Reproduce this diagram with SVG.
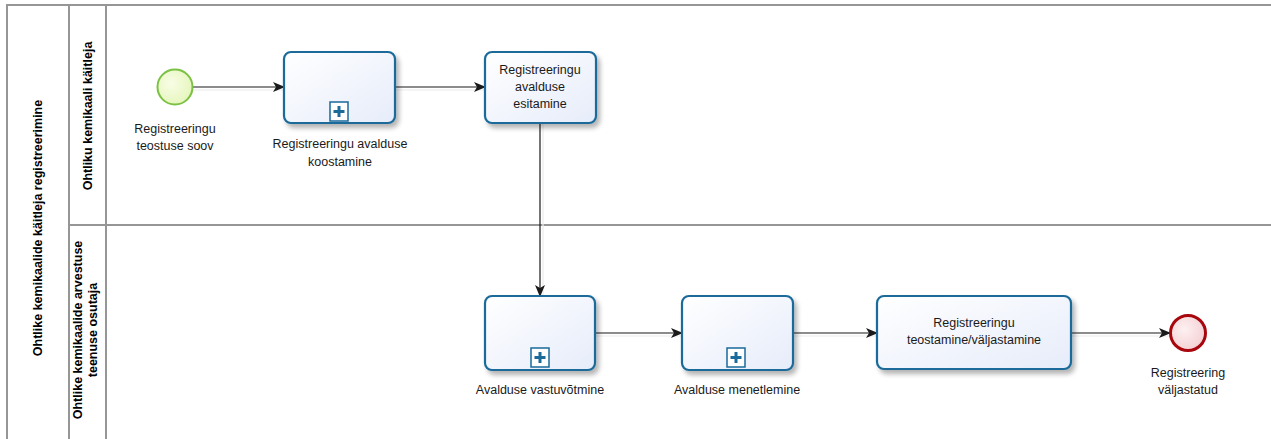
<svg xmlns="http://www.w3.org/2000/svg" width="1271" height="439" viewBox="0 0 1271 439">
<style>
.lane{fill:none;stroke:#969696;stroke-width:2}
.hdr{font-family:"Liberation Sans",Arial,sans-serif;font-size:12.5px;font-weight:bold;fill:#000;text-anchor:middle}
.lbl{font-family:"Liberation Sans",Arial,sans-serif;font-size:12.5px;fill:#1a1a1a;text-anchor:middle}
.task{fill:url(#tg);stroke:#1a6a9a;stroke-width:2.2;filter:url(#sh)}
.conn{fill:none;stroke:#1a1a1a;stroke-width:1.2;marker-end:url(#arr)}
.cshadow{fill:none;stroke:#ececec;stroke-width:1.2}
.plus{fill:#fff;stroke:#1a6a9a;stroke-width:1.5}
</style>
<defs>
<linearGradient id="tg" x1="0" y1="0" x2="1" y2="1">
<stop offset="0" stop-color="#ffffff"/>
<stop offset="1" stop-color="#e6ecfa"/>
</linearGradient>
<radialGradient id="sg" cx="0.4" cy="0.4" r="0.7">
<stop offset="0" stop-color="#f8fde6"/>
<stop offset="1" stop-color="#e4f5b8"/>
</radialGradient>
<radialGradient id="eg" cx="0.4" cy="0.4" r="0.7">
<stop offset="0" stop-color="#fdf0f1"/>
<stop offset="1" stop-color="#f3cdd1"/>
</radialGradient>
<filter id="sh" x="-10%" y="-10%" width="125%" height="130%">
<feGaussianBlur in="SourceAlpha" stdDeviation="2.5"/>
<feOffset dx="3" dy="4" result="b"/>
<feComponentTransfer><feFuncA type="linear" slope="0.3"/></feComponentTransfer>
<feMerge><feMergeNode/><feMergeNode in="SourceGraphic"/></feMerge>
</filter>
<marker id="arr" viewBox="0 0 12 10" refX="11" refY="5" markerWidth="12" markerHeight="10" markerUnits="userSpaceOnUse" orient="auto">
<path d="M0,0 L12,5 L0,10 L3,5 Z" fill="#1a1a1a"/>
</marker>
</defs>

<g id="pool">
<rect x="7" y="5" width="1280" height="450" fill="#fff" class="lane"/>
<line x1="69" y1="5" x2="69" y2="455" class="lane"/>
<line x1="106" y1="5" x2="106" y2="455" class="lane"/>
<line x1="69" y1="225" x2="1290" y2="225" class="lane"/>
<text class="hdr" transform="translate(42,228) rotate(-90)">Ohtlike kemikaalide käitleja registreerimine</text>
</g>
<g id="lane1">
<text class="hdr" transform="translate(92,116) rotate(-90)">Ohtliku kemikaali käitleja</text>
</g>
<g id="lane2">
<text class="hdr" transform="translate(82,330) rotate(-90)">Ohtlike kemikaalide arvestuse</text>
<text class="hdr" transform="translate(97,330) rotate(-90)">teenuse osutaja</text>
</g>

<g id="connectors">
<path class="cshadow" d="M193,90 H284 M395,90 H485 M543,123 V296 M595,336 H682 M793,336 H877 M1071,336 H1170"/>
<path class="conn" d="M193,87 H284"/>
<path class="conn" d="M395,87 H485"/>
<path class="conn" d="M540,123 V296"/>
<path class="conn" d="M595,333 H682"/>
<path class="conn" d="M793,333 H877"/>
<path class="conn" d="M1071,333 H1170"/>
</g>

<g id="start">
<circle cx="175" cy="87" r="17.5" fill="url(#sg)" stroke="#7bc143" stroke-width="2"/>
<text class="lbl" x="175" y="133">Registreeringu</text>
<text class="lbl" x="175" y="150">teostuse soov</text>
</g>

<g id="task1">
<rect class="task" x="284" y="52" width="111" height="71" rx="7"/>
<rect class="plus" x="330" y="102" width="18" height="19"/>
<path d="M339,106 V117 M333.5,111.5 H344.5" stroke="#1a6a9a" stroke-width="3"/>
<text class="lbl" x="340" y="148">Registreeringu avalduse</text>
<text class="lbl" x="340" y="166">koostamine</text>
</g>

<g id="task2">
<rect class="task" x="485" y="52" width="111" height="71" rx="7"/>
<text class="lbl" x="540" y="74">Registreeringu</text>
<text class="lbl" x="540" y="91">avalduse</text>
<text class="lbl" x="540" y="108">esitamine</text>
</g>

<g id="task3">
<rect class="task" x="485" y="296" width="110" height="74" rx="7"/>
<rect class="plus" x="531" y="348" width="18" height="19"/>
<path d="M540,352 V363 M534.5,357.5 H545.5" stroke="#1a6a9a" stroke-width="3"/>
<text class="lbl" x="540" y="394">Avalduse vastuvõtmine</text>
</g>

<g id="task4">
<rect class="task" x="682" y="296" width="111" height="74" rx="7"/>
<rect class="plus" x="727" y="348" width="18" height="19"/>
<path d="M736,352 V363 M730.5,357.5 H741.5" stroke="#1a6a9a" stroke-width="3"/>
<text class="lbl" x="737" y="394">Avalduse menetlemine</text>
</g>

<g id="task5">
<rect class="task" x="877" y="296" width="194" height="73" rx="7"/>
<text class="lbl" x="974" y="327">Registreeringu</text>
<text class="lbl" x="974" y="344">teostamine/väljastamine</text>
</g>

<g id="end">
<circle cx="1188" cy="333" r="17.5" fill="url(#eg)" stroke="#a8070e" stroke-width="3"/>
<text class="lbl" x="1188" y="377">Registreering</text>
<text class="lbl" x="1188" y="394">väljastatud</text>
</g>
</svg>
